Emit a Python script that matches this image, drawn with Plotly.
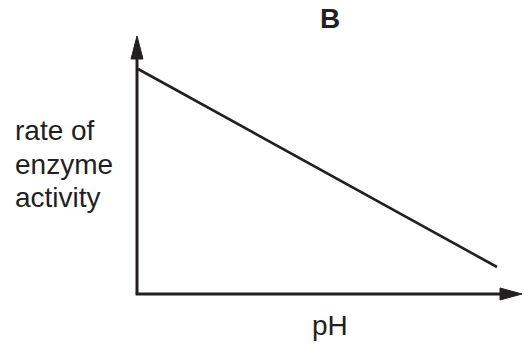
import plotly.graph_objects as go

# schematic line: rate of enzyme activity falls as pH rises
ph = [0.03, 10.0]
rate = [10.0, 1.2]

title = "B"
x_label = "pH"
y_label_lines = ["rate of", "enzyme", "activity"]
y_label_centres = [130, 164, 197]  # px from top, one per line

INK = "#231f20"
FONT = "Liberation Sans, Arial, sans-serif"

# axis extents in data units (axes cross at 0, 0)
x_min, x_max = -137 / 36, (524 - 137) / 36
y_min, y_max = -(350 - 294) / 22.5, 294 / 22.5
x_tip, x_base = (522 - 137) / 36, (500 - 137) / 36
y_tip, y_base = (294 - 36) / 22.5, (294 - 59) / 22.5
hw_x, hw_y = 6 / 36, 6 / 22.5

fig = go.Figure()
fig.add_trace(go.Scatter(
    x=ph, y=rate, mode="lines",
    line=dict(color=INK, width=2.6),
    hoverinfo="skip", showlegend=False
))

shapes = [
    dict(type="line", x0=0, y0=0, x1=0, y1=y_base + 0.1,
         line=dict(color=INK, width=3)),
    dict(type="line", x0=-0.04, y0=0, x1=x_base + 0.1, y1=0,
         line=dict(color=INK, width=3)),
    dict(type="path",
         path=f"M {-hw_x} {y_base} L 0 {y_tip} L {hw_x} {y_base} Z",
         fillcolor=INK, line=dict(color=INK, width=1)),
    dict(type="path",
         path=f"M {x_base} {-hw_y} L {x_tip} 0 L {x_base} {hw_y} Z",
         fillcolor=INK, line=dict(color=INK, width=1)),
]

annotations = [
    dict(text=f"<b>{title}</b>", x=330 / 524, y=1 - 19 / 350,
         xref="paper", yref="paper", showarrow=False,
         xanchor="center", yanchor="middle",
         font=dict(size=28, color=INK, family=FONT)),
    dict(text=x_label, x=330 / 524, y=1 - 325 / 350,
         xref="paper", yref="paper", showarrow=False,
         xanchor="center", yanchor="middle",
         font=dict(size=28, color=INK, family=FONT)),
]
for line_text, yc in zip(y_label_lines, y_label_centres):
    annotations.append(dict(
        text=line_text, x=13 / 524, y=1 - yc / 350,
        xref="paper", yref="paper", showarrow=False,
        xanchor="left", yanchor="middle", align="left",
        font=dict(size=28, color=INK, family=FONT)))

fig.update_layout(
    width=524, height=350,
    margin=dict(l=0, r=0, t=0, b=0),
    paper_bgcolor="white", plot_bgcolor="white",
    xaxis=dict(range=[x_min, x_max], visible=False, fixedrange=True),
    yaxis=dict(range=[y_min, y_max], visible=False, fixedrange=True),
    shapes=shapes,
    annotations=annotations,
)

fig.write_html("out.html", config={"displayModeBar": False},
               post_script="document.body.style.margin='0';")
